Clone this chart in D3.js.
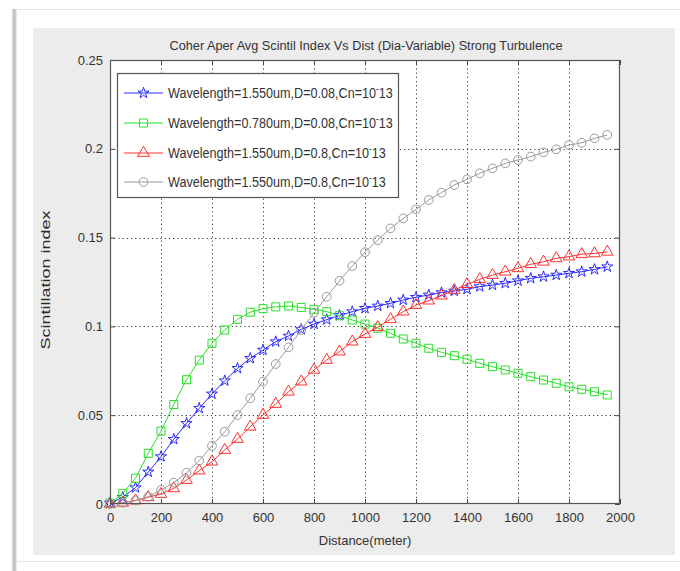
<!DOCTYPE html>
<html>
<head>
<meta charset="utf-8">
<script src="https://cdn.jsdelivr.net/npm/d3@7/dist/d3.min.js"></script>
<style>
  body { margin: 0; background: #fff; }
  text { font-family: "Liberation Sans", Arial, sans-serif; }
</style>
</head>
<body>
<svg id="chart" width="680" height="571"></svg>
<script>
// Propagation distance (m)
const distance = [0, 50, 100, 150, 200, 250, 300, 350, 400, 450, 500, 550, 600, 650, 700, 750, 800, 850, 900, 950,
  1000, 1050, 1100, 1150, 1200, 1250, 1300, 1350, 1400, 1450, 1500, 1550, 1600, 1650, 1700, 1750, 1800, 1850, 1900, 1950];

// Scintillation index, one array per configuration
const wl1550_d008 = [0.0005, 0.0038, 0.0092, 0.018, 0.0267, 0.0364, 0.0454, 0.0539, 0.062, 0.0694,
  0.0764, 0.082, 0.0867, 0.0914, 0.0946, 0.0983, 0.1013, 0.1038, 0.1062, 0.1083,
  0.1102, 0.1115, 0.113, 0.1149, 0.1164, 0.1177, 0.119, 0.1199, 0.1209, 0.1224,
  0.1233, 0.1243, 0.1257, 0.1271, 0.128, 0.1289, 0.1299, 0.1308, 0.1321, 0.1336];
const wl780_d008 = [0.0005, 0.006, 0.0145, 0.0285, 0.041, 0.056, 0.070, 0.081, 0.0905, 0.098,
  0.104, 0.108, 0.110, 0.111, 0.1115, 0.1107, 0.1096, 0.1083, 0.106, 0.1036,
  0.1013, 0.099, 0.0961, 0.0929, 0.0905, 0.0877, 0.0854, 0.0835, 0.0815, 0.0792,
  0.0773, 0.0755, 0.0736, 0.0717, 0.0698, 0.068, 0.066, 0.0646, 0.0632, 0.0614];
const wl1550_d08_a = [0, 0.0007, 0.0019, 0.0038, 0.0056, 0.0088, 0.0135, 0.0188, 0.0238, 0.0304,
  0.0366, 0.0435, 0.0501, 0.0563, 0.0632, 0.0689, 0.0755, 0.0811, 0.0858, 0.0914,
  0.0957, 0.0995, 0.104, 0.1083, 0.112, 0.1145, 0.1173, 0.1205, 0.1237, 0.1265,
  0.1289, 0.1308, 0.1327, 0.135, 0.1364, 0.1383, 0.1393, 0.1406, 0.1411, 0.142];
const wl1550_d08_b = [0, 0.0007, 0.002, 0.0041, 0.0079, 0.012, 0.0176, 0.0244, 0.0328, 0.0407,
  0.0501, 0.0595, 0.0689, 0.0788, 0.0882, 0.098, 0.1077, 0.1167, 0.1257, 0.134,
  0.1418, 0.1486, 0.1552, 0.1608, 0.1659, 0.1712, 0.1753, 0.1796, 0.1828, 0.1862,
  0.189, 0.1918, 0.1937, 0.1956, 0.198, 0.1997, 0.2021, 0.2034, 0.2059, 0.2078];

const legendLabels = [
  ["Wavelength=1.550um,D=0.08,Cn=10", "13"],
  ["Wavelength=0.780um,D=0.08,Cn=10", "13"],
  ["Wavelength=1.550um,D=0.8,Cn=10", "13"],
  ["Wavelength=1.550um,D=0.8,Cn=10", "13"]
];
const xTicks = [0, 200, 400, 600, 800, 1000, 1200, 1400, 1600, 1800, 2000];
const xTickLabels = ["0", "200", "400", "600", "800", "1000", "1200", "1400", "1600", "1800", "2000"];
const yTicks = [0, 0.05, 0.1, 0.15, 0.2, 0.25];
const yTickLabels = ["0", "0.05", "0.1", "0.15", "0.2", "0.25"];
const titleText = "Coher Aper Avg Scintil Index Vs Dist (Dia-Variable) Strong Turbulence";
const xLabel = "Distance(meter)";
const yLabel = "Scintillation index";

const seriesList = [
  { values: wl1550_d008, color: "#2b2bff", symbol: d3.symbolStar, size: 38 },
  { values: wl780_d008, color: "#27e027", symbol: d3.symbolSquare, size: 64 },
  { values: wl1550_d08_a, color: "#ff3030", symbol: d3.symbolTriangle, size: 58 },
  { values: wl1550_d08_b, color: "#9a9a9a", symbol: d3.symbolCircle, size: 60 }
];

const svg = d3.select("#chart");
const margin = { left: 110, right: 60, top: 60, bottom: 67 };
const W = 680, H = 571;
const x = d3.scaleLinear().domain([0, 2000]).range([margin.left, W - margin.right]);
const y = d3.scaleLinear().domain([0, 0.25]).range([H - margin.bottom, margin.top]);

// page card with a soft left / top edge shadow
const defs = svg.append("defs");
const sh = defs.append("linearGradient").attr("id", "edgeShadow").attr("x1", 0).attr("x2", 1);
sh.append("stop").attr("offset", 0).attr("stop-color", "#fff");
sh.append("stop").attr("offset", 0.55).attr("stop-color", "#b5b5b5");
sh.append("stop").attr("offset", 1).attr("stop-color", "#f4f4f4");
svg.append("rect").attr("x", 11).attr("y", 9).attr("width", 6).attr("height", H - 9).attr("fill", "url(#edgeShadow)");
svg.append("line").attr("x1", 16).attr("x2", W).attr("y1", 9.5).attr("y2", 9.5).attr("stroke", "#e6e6e6");
svg.append("line").attr("x1", 16).attr("x2", W).attr("y1", 561.5).attr("y2", 561.5).attr("stroke", "#e8e8e8");

// figure background
svg.append("rect").attr("x", 33).attr("y", 28).attr("width", 642).attr("height", 527).attr("fill", "#ececec");

// axes area
const x0 = x(0), x1 = x(2000), yB = y(0), yT = y(0.25);
svg.append("rect").attr("x", x0).attr("y", yT).attr("width", x1 - x0).attr("height", yB - yT).attr("fill", "#fff");

// grid
const grid = svg.append("g").attr("stroke", "#1a1a1a").attr("stroke-width", 1).attr("stroke-dasharray", "1.2,3").attr("opacity", 0.85);
grid.selectAll(".gx").data(xTicks.slice(1, -1)).join("line")
  .attr("x1", d => Math.round(x(d)) + 0.5).attr("x2", d => Math.round(x(d)) + 0.5)
  .attr("y1", yT).attr("y2", yB);
grid.selectAll(".gy").data(yTicks.slice(1, -1)).join("line")
  .attr("y1", d => Math.round(y(d)) + 0.5).attr("y2", d => Math.round(y(d)) + 0.5)
  .attr("x1", x0).attr("x2", x1);

// axes with inward ticks
const tickColor = "#444";
const xAxisB = svg.append("g").attr("transform", `translate(0,${yB})`)
  .call(d3.axisBottom(x).tickValues(xTicks).tickSizeInner(-5).tickSizeOuter(0).tickPadding(9)
    .tickFormat((d, i) => xTickLabels[i]));
const xAxisT = svg.append("g").attr("transform", `translate(0,${yT})`)
  .call(d3.axisTop(x).tickValues(xTicks).tickSizeInner(-5).tickSizeOuter(0).tickFormat(""));
const yAxisL = svg.append("g").attr("transform", `translate(${x0},0)`)
  .call(d3.axisLeft(y).tickValues(yTicks).tickSizeInner(-5).tickSizeOuter(0).tickPadding(7)
    .tickFormat((d, i) => yTickLabels[i]));
const yAxisR = svg.append("g").attr("transform", `translate(${x1},0)`)
  .call(d3.axisRight(y).tickValues(yTicks).tickSizeInner(-5).tickSizeOuter(0).tickFormat(""));
[xAxisB, xAxisT, yAxisL, yAxisR].forEach(g => {
  g.select(".domain").remove();
  g.selectAll("line").attr("stroke", tickColor);
  g.selectAll("text").attr("fill", "#333").style("font-size", "13px");
});

// series
const line = d3.line().x((d, i) => x(distance[i])).y(d => y(d));
const plot = svg.append("g");
seriesList.forEach(s => {
  plot.append("path").datum(s.values).attr("d", line)
    .attr("fill", "none").attr("stroke", s.color).attr("stroke-width", 1);
  plot.selectAll(null).data(s.values).join("path")
    .attr("transform", (d, i) => `translate(${x(distance[i])},${y(d)})`)
    .attr("d", d3.symbol(s.symbol, s.size))
    .attr("fill", "none").attr("stroke", s.color).attr("stroke-width", 1);
});

// axes box
svg.append("rect").attr("x", x0 + 0.5).attr("y", yT + 0.5).attr("width", x1 - x0 - 1).attr("height", yB - yT - 1)
  .attr("fill", "none").attr("stroke", "#555").attr("stroke-width", 1.2);

// squeeze or stretch a text horizontally about an anchor point to a target width
function fitWidth(sel, target, ax, ay) {
  const w = sel.node().getBBox().width;
  const k = target / w;
  sel.attr("transform", `translate(${ax},${ay}) scale(${k},1) translate(${-ax},${-ay})`);
}

// legend
const lgX = 117, lgY = 73, lgW = 281, lgH = 124;
const legend = svg.append("g");
legend.append("rect").attr("x", lgX + 0.5).attr("y", lgY + 0.5).attr("width", lgW).attr("height", lgH)
  .attr("fill", "#fff").attr("stroke", "#555").attr("stroke-width", 1.2);
const rowY = [93, 123, 153, 182];
const rowW = [225, 225, 218, 218];
seriesList.forEach((s, i) => {
  const ry = rowY[i];
  legend.append("line").attr("x1", 124).attr("x2", 163).attr("y1", ry).attr("y2", ry)
    .attr("stroke", s.color).attr("stroke-width", 1);
  legend.append("path").attr("transform", `translate(143.5,${ry})`)
    .attr("d", d3.symbol(s.symbol, s.size)).attr("fill", "none").attr("stroke", s.color);
  const t = legend.append("text").attr("x", 168).attr("y", ry + 5.5).attr("fill", "#333")
    .style("font-size", "15.5px");
  t.append("tspan").text(legendLabels[i][0]);
  t.append("tspan").attr("dy", -6).style("font-size", "10px").text("-");
  t.append("tspan").attr("dy", 6).text(legendLabels[i][1]);
  fitWidth(t, rowW[i], 168, ry);
});

// title and axis labels
const title = svg.append("text").attr("x", 366).attr("y", 50).attr("text-anchor", "middle")
  .attr("fill", "#333").style("font-size", "13.5px").text(titleText);
fitWidth(title, 393, 366, 50);

svg.append("text").attr("x", 365).attr("y", 545).attr("text-anchor", "middle")
  .attr("fill", "#333").style("font-size", "13px").text(xLabel);

// vertical label, elongated along its run
const ylg = svg.append("g").attr("transform", "translate(50,280) rotate(-90)");
const yl = ylg.append("text").attr("x", 0).attr("y", 0).attr("text-anchor", "middle")
  .attr("fill", "#2a2a2a").style("font-size", "13px").text(yLabel);
fitWidth(yl, 140, 0, 0);
</script>
</body>
</html>
